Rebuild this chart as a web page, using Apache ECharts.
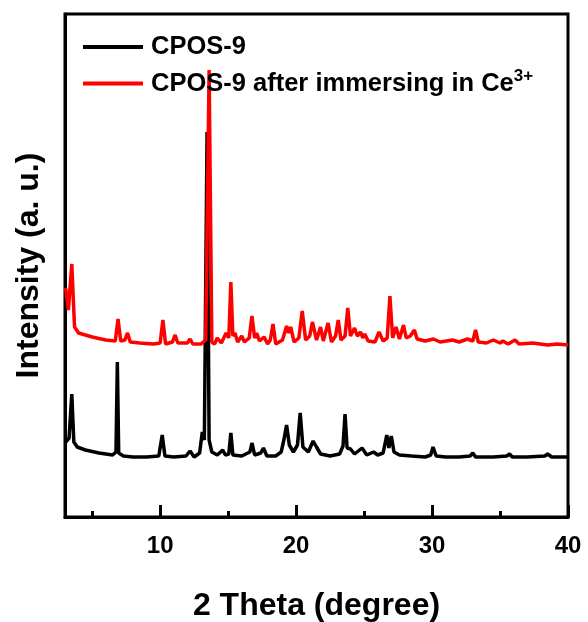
<!DOCTYPE html>
<html>
<head>
<meta charset="utf-8">
<script src="https://cdn.jsdelivr.net/npm/echarts@6/dist/echarts.min.js"></script>
<style>
  html, body { margin: 0; padding: 0; background: #fff; }
  #chart { width: 588px; height: 622px; }
</style>
</head>
<body>
<div id="chart"></div>
<script>
// 2 Theta values and intensities (a.u., arbitrary)
const cposTheta = [3.05, 3.3, 3.5, 3.65, 3.9, 4.5, 5.5, 6.5, 6.75, 6.85, 6.95, 7.3, 8.0, 9.0, 9.9, 10.15, 10.35, 11.0, 11.9, 12.2,
  12.5, 12.9, 13.1, 13.25, 13.45, 13.6, 13.8, 14.2, 14.6, 14.8, 15.05, 15.2, 15.35, 16.0, 16.6, 16.76, 16.95, 17.4, 17.6, 17.85,
  18.5, 18.9, 19.1, 19.3, 19.5, 19.8, 20.1, 20.3, 20.5, 20.9, 21.25, 21.5, 21.8, 22.5, 23.2, 23.45, 23.6, 23.75, 24.0, 24.3,
  24.85, 25.2, 25.7, 26.0, 26.4, 26.67, 26.82, 27.0, 27.2, 27.6, 28.5, 29.5, 29.9, 30.07, 30.3, 31.0, 32.0, 32.8, 33.0, 33.2,
  34.5, 35.5, 35.7, 35.9, 37.0, 38.3, 38.5, 38.8, 40];
const cposInt = [75, 79, 123, 75, 70, 67, 64, 62, 65, 155, 64, 61, 60, 60, 61, 82, 61, 60, 61, 66,
  60, 64, 85, 77, 385, 77, 65, 62, 67, 62, 63, 84, 62, 61, 65, 74, 62, 64, 69, 61,
  61, 65, 77, 92, 72, 65, 72, 104, 70, 65, 76, 70, 63, 61, 63, 71, 103, 69, 68, 63,
  69, 62, 65, 62, 64, 82, 69, 81, 65, 62, 61, 60, 62, 70, 61, 60, 60, 61, 64, 60,
  60, 61, 63, 60, 60, 61, 63, 60, 60];

const ceTheta = [3.05, 3.25, 3.5, 3.7, 4.0, 5.0, 6.0, 6.7, 6.9, 7.1, 7.4, 7.6, 7.8, 8.5, 9.5, 10.0, 10.2, 10.4, 10.9, 11.1,
  11.3, 12.0, 12.2, 12.4, 13.0, 13.35, 13.6, 13.8, 14.0, 14.2, 14.5, 14.85, 15.05, 15.2, 15.35, 15.5, 15.7, 16.0, 16.2, 16.55,
  16.75, 16.95, 17.1, 17.3, 17.65, 17.9, 18.1, 18.3, 18.5, 19.0, 19.3, 19.45, 19.6, 19.85, 20.2, 20.45, 20.7, 21.0, 21.2, 21.3,
  21.5, 21.8, 22.0, 22.35, 22.6, 22.9, 23.1, 23.3, 23.6, 23.8, 24.0, 24.3, 24.5, 24.75, 24.9, 25.05, 25.3, 25.8, 26.1, 26.4,
  26.7, 26.9, 27.1, 27.35, 27.6, 27.9, 28.1, 28.4, 28.7, 28.9, 29.5, 30.1, 30.6, 31.5, 32.0, 32.6, 33.0, 33.2, 33.4, 34.0,
  34.5, 35.0, 35.2, 35.6, 36.1, 36.4, 37.4, 38.5, 39.2, 40];
const ceInt = [229, 207, 253, 190, 184, 180, 177, 176, 198, 176, 177, 184, 175, 174, 173, 174, 197, 173, 175, 182,
  174, 174, 178, 173, 173, 177, 447, 175, 173, 179, 174, 184, 179, 235, 181, 184, 175, 181, 175, 179,
  201, 179, 184, 176, 180, 173, 177, 193, 173, 177, 191, 184, 190, 175, 179, 206, 177, 181, 195, 195,
  177, 190, 176, 194, 175, 181, 197, 177, 181, 209, 181, 189, 181, 185, 179, 183, 176, 175, 185, 176,
  179, 221, 179, 190, 178, 192, 179, 181, 187, 178, 176, 178, 175, 177, 175, 178, 176, 187, 175, 174,
  177, 174, 176, 173, 177, 173, 174, 172, 173, 172];

const majorTicks = [10, 20, 30, 40];
const minorTicks = [5, 15, 25, 35];

const seriesNames = ['CPOS-9', 'CPOS-9 after immersing in Ce3+'];

const font = 'Arial, "Liberation Sans", sans-serif';

function pairs(xs, ys) {
    return xs.map((x, i) => [x, ys[i]]);
}

const chart = echarts.init(document.getElementById('chart'));

const option = {
    backgroundColor: '#fff',
    animation: false,
    grid: {
        left: 65, right: 20, top: 14, bottom: 105,
        outerBoundsMode: 'none', // keep the plot box where it is
        show: true, borderColor: '#000', borderWidth: 3
    },
    legend: {
        orient: 'vertical',
        left: 78,
        top: 29,
        icon: 'rect',
        itemWidth: 60,
        itemHeight: 4,
        itemGap: 8,
        data: seriesNames,
        formatter: function (name) {
            if (name === seriesNames[1]) {
                return '{a|CPOS-9 after immersing in Ce}{sup|3+}';
            }
            return '{a|' + name + '}';
        },
        textStyle: {
            rich: {
                a: { fontFamily: font, fontWeight: 'bold', fontSize: 25.5, color: '#000', lineHeight: 28, padding: [0, 0, 0, 3] },
                sup: { fontFamily: font, fontWeight: 'bold', fontSize: 17, color: '#000', padding: [0, 0, 14, 0] }
            }
        }
    },
    xAxis: [
        {
            type: 'value',
            min: 3, max: 40,
            name: '2 Theta (degree)',
            nameLocation: 'middle',
            nameGap: 73,
            nameTextStyle: { fontFamily: font, fontWeight: 'bold', fontSize: 32, color: '#000' },
            axisLine: { show: true, lineStyle: { color: '#000', width: 3 } },
            axisTick: { show: true, inside: true, length: 12, customValues: majorTicks, lineStyle: { color: '#000', width: 3 } },
            axisLabel: { customValues: majorTicks, margin: 17, fontFamily: font, fontWeight: 'bold', fontSize: 24, color: '#000' },
            splitLine: { show: false }
        },
        {
            type: 'value',
            min: 3, max: 40,
            position: 'bottom',
            axisLine: { show: false },
            axisTick: { show: true, inside: true, length: 6, customValues: minorTicks, lineStyle: { color: '#000', width: 3 } },
            axisLabel: { show: false },
            splitLine: { show: false }
        }
    ],
    yAxis: {
        type: 'value',
        min: 0, max: 503,
        name: 'Intensity (a. u.)',
        nameLocation: 'middle',
        nameGap: 20,
        nameTextStyle: { fontFamily: font, fontWeight: 'bold', fontSize: 32, color: '#000' },
        axisLine: { show: true, lineStyle: { color: '#000', width: 3 } },
        axisTick: { show: false },
        axisLabel: { show: false },
        splitLine: { show: false }
    },
    series: [
        {
            name: seriesNames[0],
            type: 'line',
            data: pairs(cposTheta, cposInt),
            showSymbol: false,
            color: '#000',
            lineStyle: { color: '#000', width: 3.5 },
            z: 2
        },
        {
            name: seriesNames[1],
            type: 'line',
            data: pairs(ceTheta, ceInt),
            showSymbol: false,
            color: '#ff0000',
            lineStyle: { color: '#ff0000', width: 3.5 },
            z: 3
        }
    ]
};

chart.setOption(option);
</script>
</body>
</html>
